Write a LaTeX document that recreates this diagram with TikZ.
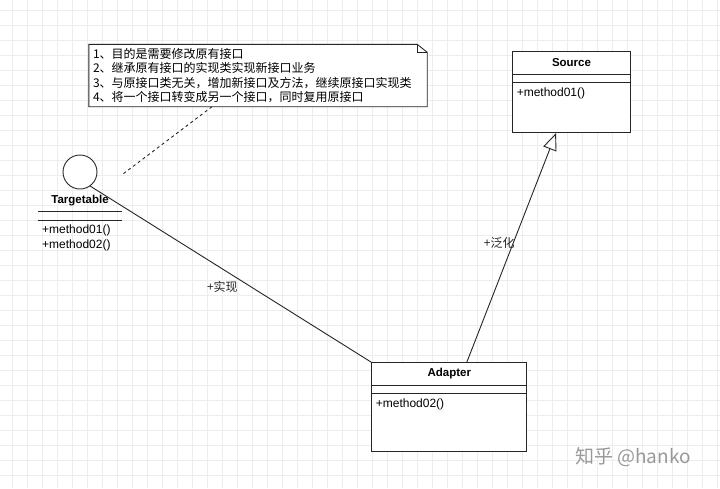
\documentclass[tikz,border=0pt]{standalone}
\usepackage{fontspec}
\setmainfont{Liberation Sans}
\newfontfamily\cjk{Noto Sans CJK SC}
\usetikzlibrary{arrows.meta}

\tikzset{
  gridline/.style={black!7, line width=0.7pt},
  umlline/.style={black!85, line width=0.9pt},
  noteline/.style={umlline, dash pattern=on 3pt off 3pt},
  notebox/.style={fill=white, inner sep=0pt, minimum width=338pt, minimum height=62pt,
    text width=330pt, align=left, font=\cjk\fontsize{12}{14.4}\selectfont},
  classbox/.style={draw=black!85, line width=0.9pt, fill=white, inner sep=0pt},
  classname/.style={font=\bfseries\fontsize{11.5}{14}\selectfont, inner sep=0pt},
  member/.style={anchor=west, inner sep=0pt},
  ifacecircle/.style={circle, draw=black!85, line width=0.9pt, fill=white,
    minimum size=34pt, inner sep=0pt},
  watermark/.style={text=black!40, font=\cjk\fontsize{19}{19}\selectfont}
}

\begin{document}
\begin{tikzpicture}[x=1pt, y=-1pt, font=\fontsize{12}{14.4}\selectfont]
\useasboundingbox (0,0) rectangle (720,488);
\fill[white] (0,0) rectangle (720,488);
% background grid
\foreach \gx in {12,27,...,717}
    \draw[gridline] (\gx,0) -- (\gx,488);
\foreach \gy in {10,25,...,485}
    \draw[gridline] (0,\gy) -- (720,\gy);

% note
\node[notebox] (note) at (258,75.5) {1、目的是需要修改原有接口\\2、继承原有接口的实现类实现新接口业务\\3、与原接口类无关，增加新接口及方法，继续原接口实现类\\4、将一个接口转变成另一个接口，同时复用原接口};
\draw[umlline] (note.north west) -- ([xshift=-10pt]note.north east) -- ([yshift=-8pt]note.north east)
    -- (note.south east) -- (note.south west) -- cycle;
\draw[umlline] ([xshift=-10pt]note.north east) -- ([xshift=-10pt,yshift=-8pt]note.north east)
    -- ([yshift=-8pt]note.north east);
\coordinate (notetail) at (123,174);
\draw[noteline] ([xshift=-46pt]note.south) -- (notetail);

% interface
\node[ifacecircle] (iface) at (80,172) {};
\node[classname] (ifacename) at (80,200.5) {Targetable};
\draw[umlline] (37.5,211.5) -- (121.5,211.5);
\draw[umlline] (37.5,220.5) -- (121.5,220.5);
\node[member] (ifaceop1) at (42,230) {+method01()};
\node[member] (ifaceop2) at (42,245) {+method02()};

% classes
\node[classbox, minimum width=118pt, minimum height=81pt] (source) at (571.5,92.2) {};
\node[classbox, minimum width=155pt, minimum height=89pt] (adapter) at (449.3,407.2) {};
\foreach \cls in {source,adapter}{
    \draw[umlline] ([yshift=-23pt]\cls.north west) -- ([yshift=-23pt]\cls.north east);
    \draw[umlline] ([yshift=-31.5pt]\cls.north west) -- ([yshift=-31.5pt]\cls.north east);
}
\node[classname] (sourcename) at ([yshift=-11pt]source.north) {Source};
\node[member] (sourceop) at ([xshift=4.5pt,yshift=-42.3pt]source.north west) {+method01()};
\node[classname] (adaptername) at ([yshift=-11.3pt]adapter.north) {Adapter};
\node[member] (adapterop) at ([xshift=4.3pt,yshift=-42.3pt]adapter.north west) {+method02()};

% relations
\draw[umlline] (iface.-54) -- (adapter.north west)
    node[pos=0.47, yshift=-18pt, font=\cjk\fontsize{12}{14.4}\selectfont] (implabel) {+实现};
\draw[umlline, -{Triangle[open, length=17pt, width=14pt, fill=white]}]
    ([xshift=17.5pt]adapter.north) -- ([xshift=-15.5pt]source.south)
    node[pos=0.52, xshift=-14pt, font=\cjk\fontsize{12}{14.4}\selectfont] (genlabel) {+泛化};

\node[watermark] (mark) at (633,457.5) {知乎 @hanko};
\end{tikzpicture}
\end{document}
